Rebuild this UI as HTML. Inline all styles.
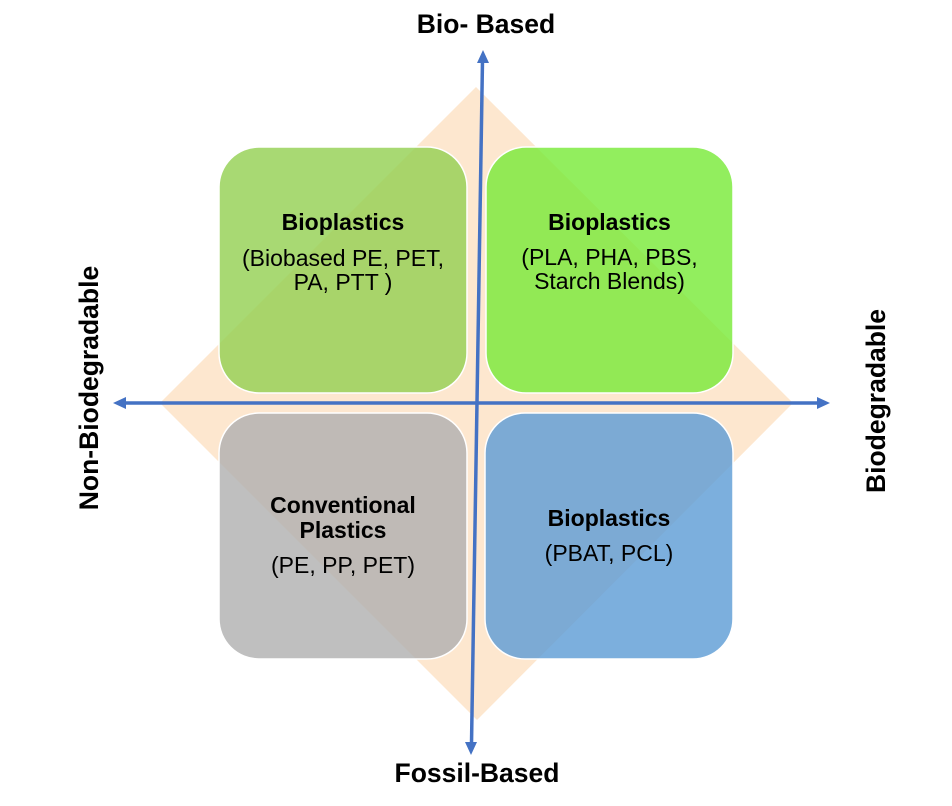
<!DOCTYPE html>
<html>
<head>
<meta charset="utf-8">
<style>
  html, body { margin:0; padding:0; background:#ffffff; }
  svg { display:block; }
  text { font-family: "Liberation Sans", Arial, sans-serif; fill:#000; }
  .ax { font-weight:bold; font-size:26.5px; }
  .t { font-weight:bold; font-size:23px; }
  .r { font-size:23px; }
</style>
</head>
<body>
<svg width="952" height="806" viewBox="0 0 952 806" xmlns="http://www.w3.org/2000/svg">
  <!-- diamond background -->
  <polygon points="476,87 793,403 477,720 160,403" fill="#fde7cf"/>

  <!-- boxes -->
  <g stroke="#ffffff" stroke-width="1.5">
    <rect x="219" y="147" width="248" height="246" rx="40" ry="40" fill="#92d050" fill-opacity="0.8"/>
    <rect x="486" y="147" width="247" height="246" rx="40" ry="40" fill="#77ea36" fill-opacity="0.8"/>
    <rect x="219" y="413" width="248" height="246" rx="40" ry="40" fill="#afafaf" fill-opacity="0.8"/>
    <rect x="485" y="413" width="248" height="246" rx="40" ry="40" fill="#5b9bd5" fill-opacity="0.8"/>
  </g>

  <!-- axes -->
  <g stroke="#4472c4" stroke-width="3.5" fill="none">
    <line x1="482.5" y1="60" x2="471.5" y2="744"/>
    <line x1="124" y1="403" x2="819" y2="403"/>
  </g>
  <g fill="#4472c4">
    <polygon points="483,50 477,63 489,63"/>
    <polygon points="471,755 465,742 477,742"/>
    <polygon points="113,403 126,397 126,409"/>
    <polygon points="830,403 817,397 817,409"/>
  </g>

  <!-- axis labels -->
  <text class="ax" x="486" y="33" text-anchor="middle">Bio- Based</text>
  <text class="ax" x="477" y="782" text-anchor="middle">Fossil-Based</text>
  <text class="ax" transform="translate(98,388) rotate(-90)" text-anchor="middle">Non-Biodegradable</text>
  <text class="ax" transform="translate(885,401) rotate(-90)" text-anchor="middle">Biodegradable</text>

  <!-- box texts -->
  <text class="t" x="343" y="230" text-anchor="middle">Bioplastics</text>
  <text class="r" x="343" y="266" text-anchor="middle">(Biobased PE, PET,</text>
  <text class="r" x="343" y="290" text-anchor="middle">PA, PTT )</text>

  <text class="t" x="609.5" y="230" text-anchor="middle">Bioplastics</text>
  <text class="r" x="609.5" y="265" text-anchor="middle">(PLA, PHA, PBS,</text>
  <text class="r" x="609.5" y="289" text-anchor="middle">Starch Blends)</text>

  <text class="t" x="343" y="513" text-anchor="middle">Conventional</text>
  <text class="t" x="343" y="538" text-anchor="middle">Plastics</text>
  <text class="r" x="343" y="573" text-anchor="middle">(PE, PP, PET)</text>

  <text class="t" x="609" y="526" text-anchor="middle">Bioplastics</text>
  <text class="r" x="609" y="561" text-anchor="middle">(PBAT, PCL)</text>
</svg>
</body>
</html>
